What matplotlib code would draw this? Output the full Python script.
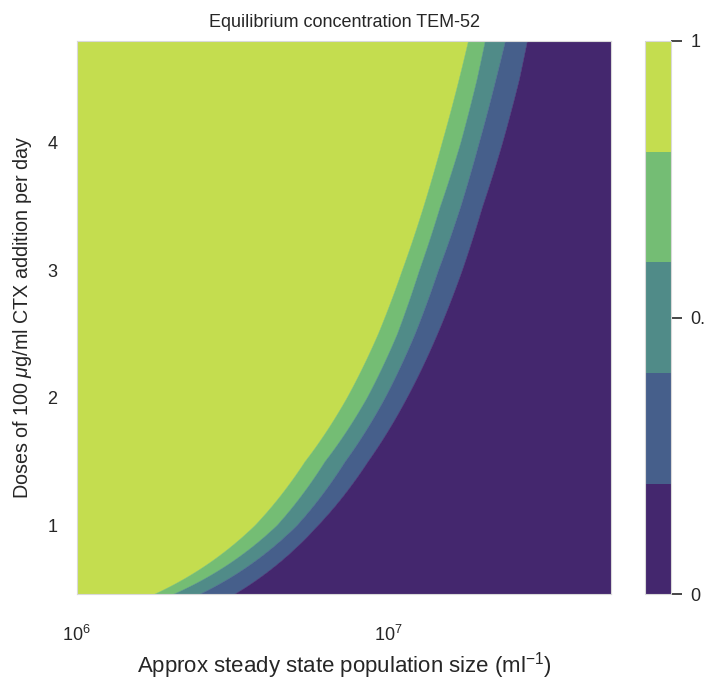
"""
Equilibrium TEM-52 concentration over population size and CTX dosing.

The bands are read as iso-concentration boundaries: for each dose row we
store the population size where the concentration drops through
0.8 / 0.6 / 0.4 / 0.2, and fill between those curves.
"""

import matplotlib
matplotlib.use("Agg")
import matplotlib.pyplot as plt
from matplotlib.colors import ListedColormap, BoundaryNorm
from matplotlib.cm import ScalarMappable
from matplotlib.path import Path
from matplotlib.patches import PathPatch
from matplotlib.ticker import NullLocator

plt.rcParams["font.family"] = ["Liberation Sans", "DejaVu Sans"]
plt.rcParams["text.color"] = ".15"
plt.rcParams["axes.labelcolor"] = ".15"
plt.rcParams["xtick.color"] = ".15"
plt.rcParams["ytick.color"] = ".15"
plt.rcParams["mathtext.fontset"] = "custom"
plt.rcParams["mathtext.rm"] = "Liberation Sans"
plt.rcParams["mathtext.it"] = "Liberation Sans:italic"

# doses per day (rows) and boundary population sizes (ml^-1)
doses = [0.46, 1.0, 1.5, 2.0, 2.5, 3.0, 3.5, 4.0, 4.5, 4.8]
n_08 = [1.78e6, 3.74e6, 5.41e6, 7.38e6, 9.29e6, 1.11e7, 1.30e7, 1.49e7, 1.69e7, 1.81e7]
n_06 = [2.05e6, 4.40e6, 6.27e6, 8.56e6, 1.07e7, 1.26e7, 1.47e7, 1.71e7, 1.93e7, 2.05e7]
n_04 = [2.49e6, 5.10e6, 7.28e6, 9.78e6, 1.22e7, 1.45e7, 1.71e7, 1.96e7, 2.22e7, 2.38e7]
n_02 = [3.22e6, 5.96e6, 8.62e6, 1.15e7, 1.44e7, 1.73e7, 2.01e7, 2.33e7, 2.64e7, 2.80e7]

N_MIN, N_MAX = 1e6, 5.2e7
levels = [0.0, 0.2, 0.4, 0.6, 0.8, 1.0]
band_colors = ["#44276e", "#465f8b", "#508b88", "#74bd74", "#c4dd4f"]


def band_patch(left, right, color):
    # polygon in data coords; segments are subdivided so the log x-scale
    # bends them the same way a contour fill would be drawn
    verts = list(zip(left, doses)) + list(zip(right[::-1], doses[::-1]))
    verts.append(verts[0])
    path = Path(verts).interpolated(60)
    return PathPatch(path, facecolor=color, edgecolor=color, linewidth=0.3)


fig = plt.figure(figsize=(7.05, 6.83), dpi=100)
ax = fig.add_axes([0.109, 0.130, 0.758, 0.810])
cax = fig.add_axes([0.915, 0.130, 0.037, 0.810])

n_lo = [N_MIN] * len(doses)
n_hi = [N_MAX] * len(doses)
# highest concentration on the left, lowest on the right
edges = [n_lo, n_08, n_06, n_04, n_02, n_hi]
for i, color in enumerate(reversed(band_colors)):
    ax.add_patch(band_patch(edges[i], edges[i + 1], color))

ax.set_xscale("log")
ax.set_xlim(N_MIN, N_MAX)
ax.set_ylim(doses[0], doses[-1])
ax.set_xticks([1e6, 1e7])
ax.xaxis.set_minor_locator(NullLocator())
ax.set_yticks([1, 2, 3, 4])
ax.tick_params(axis="x", length=0, pad=22, labelsize=13)
ax.tick_params(axis="y", length=0, pad=14, labelsize=13)
for s in ax.spines.values():
    s.set_color(".85")
    s.set_linewidth(0.8)

ax.set_title("Equilibrium concentration TEM-52", fontsize=13, pad=10)
ax.set_xlabel("Approx steady state population size (ml$^{-1}$)", fontsize=16, labelpad=4)
ax.set_ylabel(r"Doses of 100 $\mu$g/ml CTX addition per day", fontsize=14.2, labelpad=10)

sm = ScalarMappable(norm=BoundaryNorm(levels, 5), cmap=ListedColormap(band_colors))
cb = fig.colorbar(sm, cax=cax, ticks=[0, 0.5, 1])
cb.minorticks_off()
cb.ax.set_yticklabels(["0", "0.5", "1"])
cb.ax.tick_params(length=8, width=1.2, color=".15", pad=6, labelsize=13)
cb.outline.set_edgecolor(".85")
cb.outline.set_linewidth(0.8)

fig.savefig("out.png", dpi=100)
